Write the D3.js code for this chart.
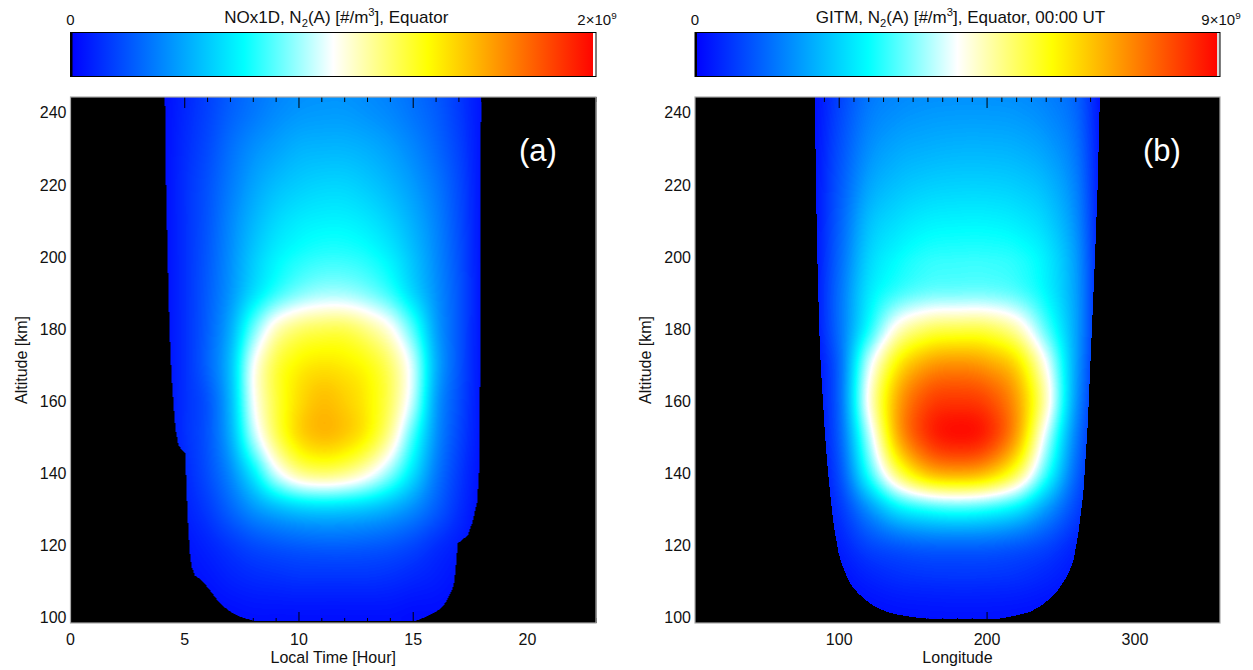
<!DOCTYPE html>
<html>
<head>
<meta charset="utf-8">
<script src="https://cdn.jsdelivr.net/npm/d3@7"></script>
<style>
  body { margin: 0; background: #fff; }
  svg { display: block; }
  text { font-family: "Liberation Sans", Arial, sans-serif; fill: #111; }
</style>
</head>
<body>
<script>
// altitude grid rows (km), shared by both panels
const altRows = [100, 110, 120, 130, 140, 150, 160, 170, 180, 190, 200, 210, 220, 230, 240, 250];

// panel (a): NOx1D, local time columns (hour), density in 1e9 #/m3
const ltCols = [3, 4, 5, 6, 7, 8, 9, 10, 11, 12, 13, 14, 15, 16, 17, 18, 19];
const densA = [
    [0, 0.00, 0.01, 0.02, 0.03, 0.04, 0.04, 0.04, 0.04, 0.04, 0.04, 0.04, 0.03, 0.03, 0.02, 0.00, 0],
    [0, 0.01, 0.03, 0.05, 0.08, 0.10, 0.11, 0.12, 0.12, 0.12, 0.12, 0.11, 0.09, 0.07, 0.04, 0.01, 0],
    [0, 0.02, 0.05, 0.09, 0.14, 0.19, 0.22, 0.24, 0.25, 0.25, 0.24, 0.22, 0.18, 0.12, 0.07, 0.02, 0],
    [0, 0.02, 0.08, 0.15, 0.26, 0.38, 0.47, 0.53, 0.55, 0.54, 0.51, 0.45, 0.36, 0.24, 0.12, 0.03, 0],
    [0, 0.03, 0.10, 0.20, 0.36, 0.62, 0.94, 1.14, 1.20, 1.16, 1.04, 0.84, 0.58, 0.32, 0.15, 0.04, 0],
    [0, 0.03, 0.12, 0.22, 0.45, 0.88, 1.22, 1.44, 1.52, 1.48, 1.36, 1.12, 0.74, 0.38, 0.18, 0.05, 0],
    [0, 0.03, 0.12, 0.22, 0.48, 0.98, 1.27, 1.44, 1.52, 1.48, 1.39, 1.22, 0.90, 0.42, 0.20, 0.05, 0],
    [0, 0.03, 0.12, 0.26, 0.50, 0.98, 1.26, 1.38, 1.42, 1.40, 1.34, 1.20, 0.92, 0.46, 0.22, 0.05, 0],
    [0, 0.03, 0.12, 0.25, 0.45, 0.80, 1.08, 1.20, 1.24, 1.24, 1.16, 1.02, 0.76, 0.42, 0.22, 0.05, 0],
    [0, 0.03, 0.12, 0.24, 0.39, 0.58, 0.73, 0.83, 0.88, 0.88, 0.83, 0.73, 0.56, 0.38, 0.22, 0.05, 0],
    [0, 0.03, 0.12, 0.23, 0.37, 0.52, 0.63, 0.69, 0.72, 0.72, 0.69, 0.62, 0.50, 0.36, 0.21, 0.05, 0],
    [0, 0.03, 0.12, 0.22, 0.35, 0.47, 0.56, 0.61, 0.63, 0.63, 0.60, 0.54, 0.45, 0.34, 0.20, 0.05, 0],
    [0, 0.03, 0.12, 0.21, 0.32, 0.42, 0.49, 0.53, 0.55, 0.55, 0.52, 0.47, 0.40, 0.31, 0.19, 0.05, 0],
    [0, 0.03, 0.11, 0.19, 0.29, 0.37, 0.42, 0.46, 0.47, 0.47, 0.45, 0.41, 0.35, 0.27, 0.17, 0.05, 0],
    [0, 0.03, 0.10, 0.17, 0.25, 0.31, 0.36, 0.39, 0.40, 0.40, 0.38, 0.35, 0.30, 0.24, 0.15, 0.05, 0],
    [0, 0.03, 0.09, 0.16, 0.23, 0.29, 0.33, 0.36, 0.37, 0.37, 0.35, 0.32, 0.28, 0.22, 0.14, 0.05, 0]
];
// edges of the non-zero region (alt -> local time)
const leftAltA = [99, 100.2, 101.5, 103, 105, 107.5, 109.5, 110.5, 111.5, 114, 118, 125, 135, 145.5, 146.5, 148, 152, 158, 167, 180, 200, 220, 245];
const leftLtA = [8.0, 7.4, 7.0, 6.7, 6.4, 6.1, 5.85, 5.7, 5.45, 5.3, 5.22, 5.15, 5.08, 5.02, 4.85, 4.72, 4.6, 4.52, 4.42, 4.33, 4.25, 4.18, 4.13];
const rightAltA = [99, 100.2, 101.5, 103, 105, 107.5, 110, 115, 120.5, 121.5, 122.8, 126.5, 132, 140, 160, 200, 245];
const rightLtA = [15.1, 15.6, 16.0, 16.3, 16.5, 16.7, 16.8, 16.88, 16.95, 17.15, 17.4, 17.6, 17.8, 17.88, 17.92, 17.95, 17.97];

// panel (b): GITM, longitude columns (deg), density in 1e9 #/m3
const lonCols = [60, 80, 100, 120, 140, 160, 180, 200, 220, 240, 260, 280, 300];
const densB = [
    [0, 0.01, 0.05, 0.12, 0.17, 0.19, 0.20, 0.20, 0.18, 0.14, 0.07, 0.01, 0],
    [0, 0.02, 0.15, 0.35, 0.48, 0.53, 0.55, 0.54, 0.50, 0.38, 0.20, 0.02, 0],
    [0, 0.05, 0.35, 0.80, 1.05, 1.18, 1.20, 1.18, 1.05, 0.80, 0.40, 0.05, 0],
    [0, 0.10, 0.60, 1.70, 2.75, 3.20, 3.35, 3.20, 2.75, 1.80, 0.80, 0.05, 0],
    [0, 0.10, 0.90, 3.20, 5.50, 6.80, 7.10, 6.80, 5.60, 3.30, 1.20, 0.10, 0],
    [0, 0.10, 1.10, 4.00, 7.00, 8.40, 8.80, 8.50, 7.10, 4.20, 1.50, 0.10, 0],
    [0, 0.10, 1.20, 4.60, 7.10, 8.20, 8.40, 8.20, 7.20, 4.90, 1.80, 0.10, 0],
    [0, 0.10, 1.20, 4.20, 6.30, 7.20, 7.40, 7.20, 6.50, 4.50, 1.90, 0.10, 0],
    [0, 0.10, 1.30, 3.10, 4.80, 5.50, 5.65, 5.60, 5.00, 3.50, 1.90, 0.10, 0],
    [0, 0.10, 1.30, 2.70, 3.35, 3.65, 3.70, 3.70, 3.50, 2.90, 1.85, 0.10, 0],
    [0, 0.10, 1.20, 2.45, 2.95, 3.20, 3.25, 3.25, 3.15, 2.75, 1.80, 0.10, 0],
    [0, 0.10, 1.10, 2.20, 2.60, 2.80, 2.85, 2.85, 2.75, 2.45, 1.65, 0.10, 0],
    [0, 0.10, 1.00, 1.90, 2.25, 2.40, 2.45, 2.45, 2.38, 2.15, 1.50, 0.10, 0],
    [0, 0.10, 0.90, 1.65, 1.95, 2.05, 2.10, 2.10, 2.05, 1.85, 1.35, 0.10, 0],
    [0, 0.10, 0.80, 1.45, 1.68, 1.77, 1.80, 1.80, 1.76, 1.60, 1.20, 0.10, 0],
    [0, 0.10, 0.70, 1.30, 1.50, 1.58, 1.60, 1.60, 1.57, 1.43, 1.08, 0.10, 0]
];
const leftAltB = [99.4, 100, 100.7, 101.5, 103, 105, 107, 109, 111.5, 115, 118, 125, 130, 140, 150, 160, 170, 180, 200, 220, 245];
const leftLonB = [165, 150, 140, 132, 124, 117, 112, 108, 105, 101.5, 99.5, 96.5, 95, 92.5, 90.5, 89, 87.5, 86.5, 85.2, 84.3, 83.5];
const rightAltB = [99.4, 100, 100.7, 101.5, 103, 105, 107, 110, 112.5, 116, 122.7, 134, 153, 167, 200, 220, 245];
const rightLonB = [205, 214, 222, 229, 236, 242, 247, 252, 255.5, 258.5, 261.5, 265, 268, 269.5, 273, 274.8, 276.3];

// ticks
const altTicks = [100, 120, 140, 160, 180, 200, 220, 240];
const ltTicks = [0, 5, 10, 15, 20];
const lonTicks = [100, 200, 300];

// colour table
const cmapStops = [0, 0.33, 0.5, 0.68, 0.84, 1];
const cmapColors = ['#0000ff', '#00ffff', '#ffffff', '#ffff00', '#ff8000', '#ff0000'];

const width = 1253, height = 670;
const plotTop = 97, plotBottom = 623;

const svg = d3.select('body').append('svg')
    .attr('width', width)
    .attr('height', height);

const defs = svg.append('defs');
const grad = defs.append('linearGradient').attr('id', 'cbar');
grad.selectAll('stop')
    .data(cmapStops)
    .enter().append('stop')
    .attr('offset', d => d * 100 + '%')
    .attr('stop-color', (d, i) => cmapColors[i]);

const cmap = d3.scaleLinear().domain(cmapStops).range(cmapColors).clamp(true);
const lut = d3.range(256).map(i => d3.rgb(cmap(i / 255)));

const panels = [
    {
        x0: 70.5, w: 525.5, xDomain: [0, 23], cols: ltCols, grid: densA, vmax: 2,
        leftAlt: leftAltA, left: leftLtA, rightAlt: rightAltA, right: rightLtA,
        ticks: ltTicks, minorStep: 1, xLabel: 'Local Time [Hour]', tag: '(a)', tagX: 538,
        title: [['NOx1D, N'], ['2', 'sub'], ['(A) [#/m'], ['3', 'sup'], ['], Equator']],
        maxLabel: '2', endStrip: '#ffffff'
    },
    {
        x0: 695, w: 525, xDomain: [2.5, 357.5], cols: lonCols, grid: densB, vmax: 9,
        leftAlt: leftAltB, left: leftLonB, rightAlt: rightAltB, right: rightLonB,
        ticks: lonTicks, minorStep: 10, xLabel: 'Longitude', tag: '(b)', tagX: 1162,
        title: [['GITM, N'], ['2', 'sub'], ['(A) [#/m'], ['3', 'sup'], ['], Equator, 00:00 UT']],
        maxLabel: '9', endStrip: '#d8d8d8'
    }
];

function catmull(p0, p1, p2, p3, u) {
    return 0.5 * (2 * p1 + (p2 - p0) * u
        + (2 * p0 - 5 * p1 + 4 * p2 - p3) * u * u
        + (3 * p1 - p0 - 3 * p2 + p3) * u * u * u);
}

function sampler(grid, cols) {
    const fx = d3.scaleLinear().domain(d3.extent(cols)).range([0, cols.length - 1]);
    const fy = d3.scaleLinear().domain(d3.extent(altRows)).range([0, altRows.length - 1]);
    const nx = cols.length, ny = altRows.length;
    const at = (r, c) => grid[Math.max(0, Math.min(ny - 1, r))][Math.max(0, Math.min(nx - 1, c))];
    return (xv, alt) => {
        let gx = Math.max(0, Math.min(nx - 1.0001, fx(xv)));
        let gy = Math.max(0, Math.min(ny - 1.0001, fy(alt)));
        const i = Math.floor(gx), j = Math.floor(gy);
        const u = gx - i, v = gy - j;
        const rows = [j - 1, j, j + 1, j + 2].map(r =>
            catmull(at(r, i - 1), at(r, i), at(r, i + 1), at(r, i + 2), u));
        return catmull(rows[0], rows[1], rows[2], rows[3], v);
    };
}

function addRich(sel, parts, size) {
    parts.forEach(([t, kind], k) => {
        const prev = k > 0 ? parts[k - 1][1] : null;
        let dy = 0;
        if (prev === 'sub') dy -= size * 0.28;
        if (prev === 'sup') dy += size * 0.4;
        if (kind === 'sub') dy += size * 0.28;
        if (kind === 'sup') dy -= size * 0.4;
        sel.append('tspan')
            .attr('dy', dy)
            .style('font-size', kind ? size * 0.66 + 'px' : size + 'px')
            .text(t);
    });
}

function drawPanel(p) {
    const x = d3.scaleLinear().domain(p.xDomain).range([p.x0, p.x0 + p.w]);
    const y = d3.scaleLinear().domain([98.4, 244.4]).range([plotBottom, plotTop]);
    const g = svg.append('g');

    // field image
    const cw = Math.round(p.w), ch = plotBottom - plotTop;
    const canvas = document.createElement('canvas');
    canvas.width = cw;
    canvas.height = ch;
    const ctx = canvas.getContext('2d');
    const img = ctx.createImageData(cw, ch);
    const leftEdge = d3.scaleLinear().domain(p.leftAlt).range(p.left).clamp(true);
    const rightEdge = d3.scaleLinear().domain(p.rightAlt).range(p.right).clamp(true);
    const minAlt = Math.min(p.leftAlt[0], p.rightAlt[0]);
    const val = sampler(p.grid, p.cols);
    for (let j = 0; j < ch; j++) {
        const alt = y.invert(plotTop + j + 0.5);
        const lo = leftEdge(alt), hi = rightEdge(alt);
        for (let i = 0; i < cw; i++) {
            const xv = x.invert(p.x0 + i + 0.5);
            const k = (j * cw + i) * 4;
            img.data[k + 3] = 255;
            if (alt < minAlt || xv < lo || xv > hi) continue;
            const t = Math.max(0, Math.min(1, val(xv, alt) / p.vmax));
            const c = lut[Math.round(t * 255)];
            img.data[k] = c.r;
            img.data[k + 1] = c.g;
            img.data[k + 2] = c.b;
        }
    }
    ctx.putImageData(img, 0, 0);

    g.append('image')
        .attr('x', p.x0)
        .attr('y', plotTop)
        .attr('width', cw)
        .attr('height', ch)
        .attr('preserveAspectRatio', 'none')
        .attr('href', canvas.toDataURL());

    // ticks (inside)
    const minors = d3.range(Math.ceil(p.xDomain[0] / p.minorStep) * p.minorStep, p.xDomain[1] + 1e-6, p.minorStep);
    const tickG = g.append('g').attr('stroke', '#000').attr('stroke-width', 1);
    minors.forEach(v => {
        const major = p.ticks.includes(v);
        const len = major ? 11 : 5;
        tickG.append('line').attr('x1', x(v)).attr('x2', x(v)).attr('y1', plotBottom).attr('y2', plotBottom - len);
        tickG.append('line').attr('x1', x(v)).attr('x2', x(v)).attr('y1', plotTop).attr('y2', plotTop + len);
    });
    altTicks.forEach(v => {
        tickG.append('line').attr('x1', p.x0).attr('x2', p.x0 + 11).attr('y1', y(v)).attr('y2', y(v));
        tickG.append('line').attr('x1', p.x0 + p.w).attr('x2', p.x0 + p.w - 11).attr('y1', y(v)).attr('y2', y(v));
    });

    g.append('rect')
        .attr('x', p.x0)
        .attr('y', plotTop)
        .attr('width', p.w)
        .attr('height', ch)
        .attr('fill', 'none')
        .attr('stroke', '#a8a8a8')
        .attr('stroke-width', 1.2);

    // tick labels
    g.selectAll('.ylab')
        .data(altTicks)
        .enter().append('text')
        .attr('x', p.x0 - 4)
        .attr('y', d => y(d) + 5.6)
        .attr('text-anchor', 'end')
        .style('font-size', '16px')
        .text(d => d);

    g.selectAll('.xlab')
        .data(p.ticks)
        .enter().append('text')
        .attr('x', d => x(d))
        .attr('y', 645)
        .attr('text-anchor', 'middle')
        .style('font-size', '16px')
        .text(d => d);

    g.append('text')
        .attr('x', p.x0 + p.w / 2)
        .attr('y', 663)
        .attr('text-anchor', 'middle')
        .style('font-size', '16px')
        .text(p.xLabel);

    g.append('text')
        .attr('transform', `translate(${p.x0 - 44},${(plotTop + plotBottom) / 2}) rotate(-90)`)
        .attr('text-anchor', 'middle')
        .style('font-size', '16px')
        .text('Altitude [km]');

    g.append('text')
        .attr('x', p.tagX)
        .attr('y', 161)
        .attr('text-anchor', 'middle')
        .style('font-size', '31px')
        .style('fill', '#fff')
        .text(p.tag);

    // colour bar
    const cb = svg.append('g');
    const cbTop = 32.5, cbH = 44;
    cb.append('rect')
        .attr('x', p.x0).attr('y', cbTop).attr('width', p.w).attr('height', cbH)
        .attr('fill', 'url(#cbar)');
    cb.append('rect')
        .attr('x', p.x0).attr('y', cbTop).attr('width', 2).attr('height', cbH)
        .attr('fill', '#000');
    cb.append('rect')
        .attr('x', p.x0 + p.w - 3).attr('y', cbTop).attr('width', 3).attr('height', cbH)
        .attr('fill', p.endStrip);
    cb.append('rect')
        .attr('x', p.x0).attr('y', cbTop).attr('width', p.w).attr('height', cbH)
        .attr('fill', 'none').attr('stroke', '#000').attr('stroke-width', 1);

    cb.append('text')
        .attr('x', p.x0).attr('y', 25)
        .attr('text-anchor', 'middle')
        .style('font-size', '15px')
        .text('0');

    const mx = cb.append('text')
        .attr('x', p.x0 + p.w + 1).attr('y', 25)
        .attr('text-anchor', 'middle');
    addRich(mx, [[p.maxLabel + '\u00d710'], ['9', 'sup']], 15);

    const tt = cb.append('text')
        .attr('x', p.x0 + p.w / 2 + 3).attr('y', 22.5)
        .attr('text-anchor', 'middle');
    addRich(tt, p.title, 17);
}

panels.forEach(drawPanel);
</script>
</body>
</html>
